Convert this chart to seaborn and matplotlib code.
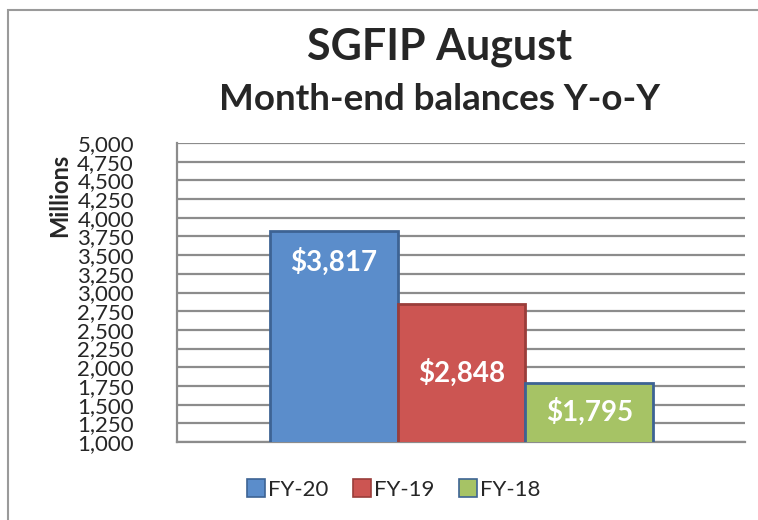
import matplotlib
matplotlib.use("Agg")
import matplotlib.pyplot as plt
import seaborn as sns
import pandas as pd
from matplotlib.patches import Rectangle
from matplotlib.lines import Line2D

# ---- data ----
years = ["FY-20", "FY-19", "FY-18"]
balances = [3817, 2848, 1795]
y_ticks = list(range(1000, 5001, 250))
title = "SGFIP August"
subtitle = "Month-end balances Y-o-Y"
y_label = "Millions"

bar_colors = ["#5B8DCB", "#CC5552", "#A6C365"]
edge_colors = ["#3D6394", "#9A3D3A", "#3D6394"]

sns.set_theme(style="white")
plt.rcParams['font.family'] = ['Lato', 'DejaVu Sans']

W, H = 758, 520
fig = plt.figure(figsize=(W / 100, H / 100), dpi=100)

# outer border
fig.patches.append(Rectangle((8 / W, -0.1), 1.2, 1 - 10 / H + 0.1,
                             transform=fig.transFigure, fill=False,
                             edgecolor="#9a9a9a", linewidth=1.5))

left, right, top, bottom = 177, 745, 143, 442
ax = fig.add_axes([left / W, 1 - bottom / H, (right - left) / W, (bottom - top) / H])

df = pd.DataFrame({"year": years, "value": balances})
sns.barplot(data=df, x="year", y="value", hue="year", palette=bar_colors,
            saturation=1, width=1.0, legend=False, ax=ax, linewidth=2)
for patch, ec in zip(ax.patches, edge_colors):
    patch.set_edgecolor(ec)
    patch.set_zorder(3)

ymin, ymax = y_ticks[0], y_ticks[-1]
ax.set_ylim(ymin, ymax)
ax.set_xlim(-1.23, 3.22)
ax.set_yticks(y_ticks)
ax.set_yticklabels([f"{t:,}" for t in y_ticks], fontsize=16)
ax.tick_params(axis="y", length=0, pad=31)
ax.set_xticks([])
ax.set_xlabel("")
ax.set_ylabel("")
ax.yaxis.grid(True, color="#8c8c8c", linewidth=1.6)
ax.set_axisbelow(True)
for s in ["top", "right"]:
    ax.spines[s].set_visible(False)
for s in ["left", "bottom"]:
    ax.spines[s].set_color("#8c8c8c")
    ax.spines[s].set_linewidth(1.6)

# bar value labels
for i, v in enumerate(balances):
    if i == 0:
        ypos = v - 410
    else:
        ypos = (v + ymin) / 2
    ax.text(i, ypos, f"${v:,}", ha="center", va="center", color="white",
            fontsize=20, fontweight="bold", zorder=5)

fig.text(440 / W, 1 - 47 / H, title, ha="center", va="center",
         fontsize=31, fontweight="bold")
fig.text(440 / W, 1 - 100 / H, subtitle, ha="center", va="center",
         fontsize=26.5, fontweight="bold")
fig.text(60 / W, 1 - 195 / H, y_label, ha="center", va="center",
         rotation=90, fontsize=17, fontweight="bold")

handles = [Line2D([], [], marker="s", linestyle="none", markersize=13,
                  markerfacecolor=c, markeredgecolor=e, markeredgewidth=1.2)
           for c, e in zip(bar_colors, edge_colors)]
fig.legend(handles, years, loc="center", bbox_to_anchor=(393 / W, 1 - 490 / H),
           ncol=3, frameon=False, fontsize=16, handletextpad=0.05,
           columnspacing=1.0, handlelength=1.0)

fig.savefig("out.png", dpi=100)
